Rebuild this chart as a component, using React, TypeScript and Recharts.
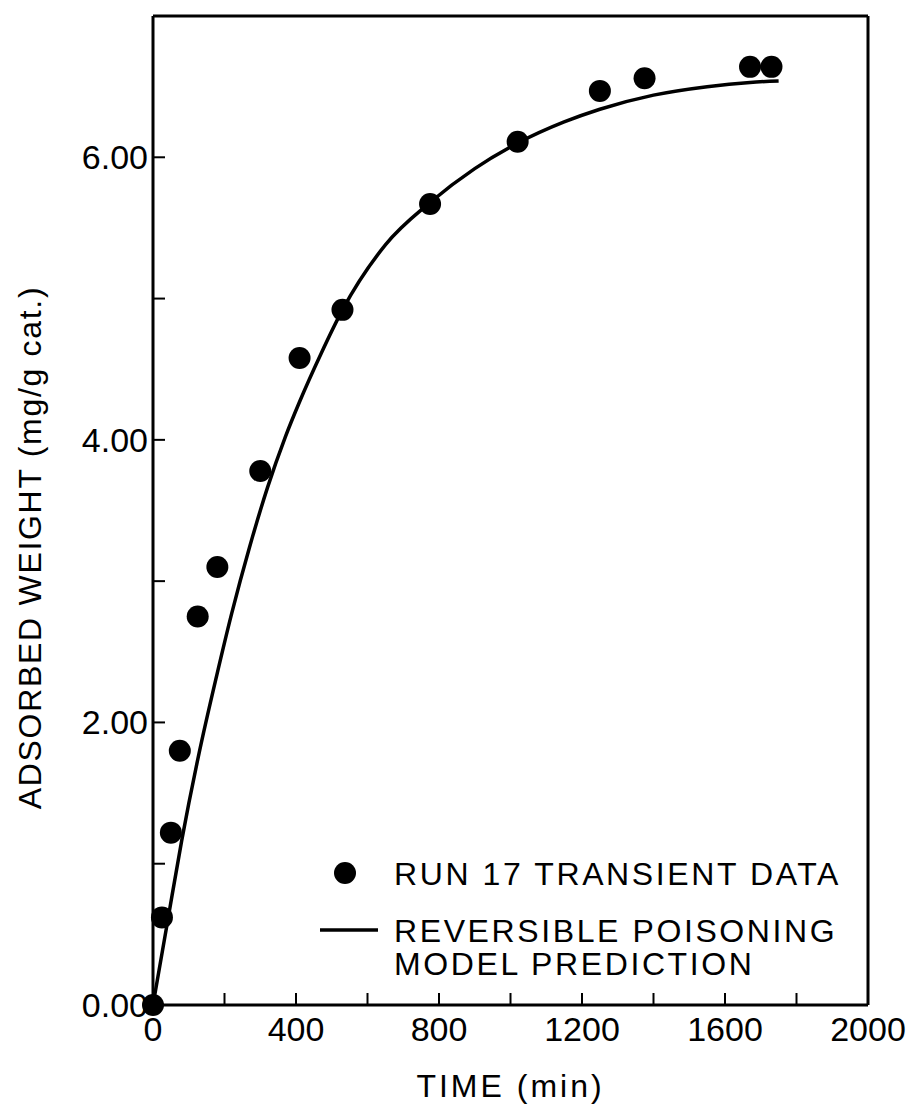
import React from 'react';
import { ComposedChart, Line, Scatter, XAxis, YAxis, Legend } from 'recharts';

// measured points (run 17)
const runTime = [0, 25, 50, 75, 125, 180, 300, 410, 530, 775, 1020, 1250, 1375, 1670, 1730];
const runWeight = [0, 0.62, 1.22, 1.8, 2.75, 3.1, 3.78, 4.58, 4.92, 5.67, 6.11, 6.47, 6.56, 6.64, 6.64];

// model prediction curve
const modelTime = [0, 40, 80, 127, 178, 220, 270, 320, 370, 410, 470, 530, 650, 775, 900, 1020, 1150, 1250, 1400, 1550, 1670, 1750];
const modelWeight = [0, 0.58, 1.16, 1.76, 2.33, 2.77, 3.24, 3.66, 4.02, 4.27, 4.61, 4.92, 5.38, 5.68, 5.92, 6.1, 6.25, 6.34, 6.44, 6.5, 6.53, 6.54];

const xTicks = [0, 200, 400, 600, 800, 1000, 1200, 1400, 1600, 1800, 2000];
const yTicks = [0, 1, 2, 3, 4, 5, 6, 7];

const dataLabel = 'RUN 17 TRANSIENT DATA';
const modelLabel = ['REVERSIBLE POISONING', 'MODEL PREDICTION'];
const xTitle = 'TIME (min)';
const yTitle = 'ADSORBED WEIGHT (mg/g cat.)';

const runData = runTime.map((t, i) => ({ t, w: runWeight[i] }));
const modelData = modelTime.map((t, i) => ({ t, w: modelWeight[i] }));

const FONT = '"Liberation Sans", Arial, Helvetica, sans-serif';
const axisLine = { stroke: '#000', strokeWidth: 3 };
const tickLine = { stroke: '#000', strokeWidth: 2 };
const tickFont = { fontSize: 34, fontFamily: FONT, fill: '#000' };

const renderLegend = () => (
  <svg width={560} height={140} style={{ fontFamily: FONT }}>
    <circle cx={45} cy={28} r={11} fill="#000" />
    <text x={94} y={39.5} fontSize={32} letterSpacing={2.6} fill="#000">{dataLabel}</text>
    <line x1={20} x2={78} y1={85} y2={85} stroke="#000" strokeWidth={3.5} />
    {modelLabel.map((s, i) => (
      <text key={i} x={94} y={96.5 + i * 33} fontSize={32} letterSpacing={2.6} fill="#000">{s}</text>
    ))}
  </svg>
);

const App: React.FC = () => {
  return (
    <div style={{ position: 'absolute', left: 0, top: 0, background: '#fff' }}>
      <ComposedChart width={918} height={1106} margin={{ top: 0, right: 0, bottom: 0, left: 0 }}>
        <XAxis
          xAxisId="b"
          type="number"
          dataKey="t"
          domain={[0, 2000]}
          ticks={xTicks}
          interval={0}
          height={101}
          axisLine={axisLine}
          tickLine={tickLine}
          tickSize={-12}
          tickMargin={24}
          tick={tickFont}
          tickFormatter={(v: number) => (v % 400 === 0 ? String(v) : '')}
          label={(p: any) => (
            <text
              x={p.viewBox.x + p.viewBox.width / 2}
              y={p.viewBox.y + 92}
              textAnchor="middle"
              fontSize={32}
              letterSpacing={3}
              fontFamily={FONT}
              fill="#000"
            >
              {xTitle}
            </text>
          )}
        />
        <XAxis
          xAxisId="t"
          orientation="top"
          type="number"
          domain={[0, 2000]}
          ticks={xTicks}
          interval={0}
          height={16}
          axisLine={axisLine}
          tickLine={tickLine}
          tickSize={-12}
          tick={false}
        />
        <YAxis
          yAxisId="l"
          type="number"
          domain={[0, 7]}
          ticks={yTicks}
          interval={0}
          width={153}
          axisLine={axisLine}
          tickLine={tickLine}
          tickSize={-12}
          tickMargin={17}
          tick={tickFont}
          tickFormatter={(v: number) => (v % 2 === 0 ? v.toFixed(2) : '')}
          label={(p: any) => {
            const cx = 30;
            const cy = p.viewBox.y + p.viewBox.height / 2 + 37;
            return (
              <text
                x={cx}
                y={cy}
                transform={`rotate(-90 ${cx} ${cy})`}
                textAnchor="middle"
                dominantBaseline="central"
                fontSize={32}
                letterSpacing={1.7}
                fontFamily={FONT}
                fill="#000"
              >
                {yTitle}
              </text>
            );
          }}
        />
        <YAxis
          yAxisId="r"
          orientation="right"
          type="number"
          domain={[0, 7]}
          ticks={yTicks}
          interval={0}
          width={50}
          axisLine={axisLine}
          tickLine={tickLine}
          tickSize={-12}
          tick={false}
        />
        <Line
          xAxisId="b"
          yAxisId="l"
          data={modelData}
          dataKey="w"
          type="monotone"
          stroke="#000"
          strokeWidth={3.5}
          dot={false}
          activeDot={false}
          isAnimationActive={false}
        />
        <Scatter
          xAxisId="b"
          yAxisId="l"
          data={runData}
          dataKey="w"
          fill="#000"
          shape={(p: any) => <circle cx={p.cx} cy={p.cy} r={11} fill="#000" />}
          isAnimationActive={false}
        />
        <Legend
          layout="horizontal"
          verticalAlign="middle"
          align="center"
          content={renderLegend}
          wrapperStyle={{ left: 300, top: 845, width: 560, height: 140 }}
        />
      </ComposedChart>
    </div>
  );
};

export default App;
